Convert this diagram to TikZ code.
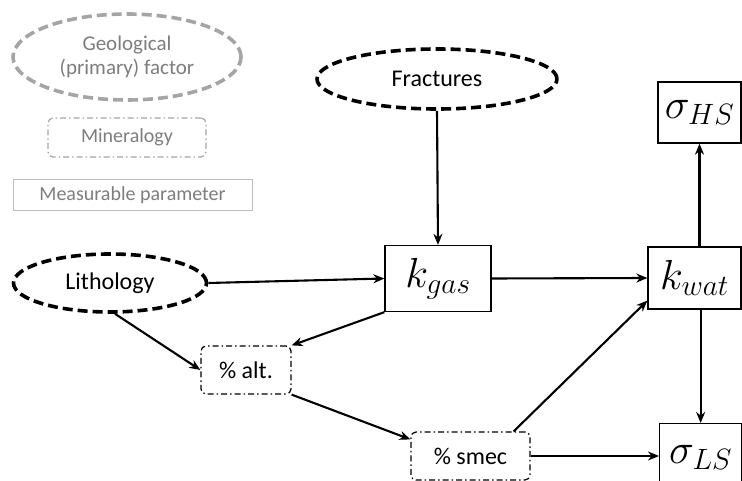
\RequirePackage{fix-cm}
\documentclass[tikz,border=0pt]{standalone}
\usepackage{fontspec}
\setmainfont{Carlito}
\usetikzlibrary{shapes.geometric,arrows.meta}
\definecolor{legendgray}{RGB}{165,165,165}
\definecolor{legendtext}{RGB}{125,125,125}
\definecolor{lightbox}{RGB}{190,190,190}
\tikzset{
  factor/.style={ellipse, draw, line width=3.6pt, dash pattern=on 10pt off 5pt, inner sep=0pt, font=\fontsize{24}{28}\selectfont},
  mineral/.style={rectangle, draw, rounded corners=5pt, line width=1.2pt, dash pattern=on 6pt off 3pt on 1.5pt off 3pt, inner sep=0pt, font=\fontsize{24}{28}\selectfont},
  param/.style={rectangle, draw, line width=1.3pt, inner sep=0pt, font=\fontsize{42}{46}\selectfont},
  conn/.style={line width=2.1pt, -{Stealth[length=11pt,width=9pt]}},
}
\begin{document}
\begin{tikzpicture}[x=1pt,y=-1pt]
\useasboundingbox (0,0) rectangle (742,481);
\clip (0,0) rectangle (742,481);
% legend
\node[factor, draw=legendgray, text=legendtext, align=center, minimum width=228, minimum height=86, font=\fontsize{21}{24}\selectfont] (geo) at (127,57) {Geological\\(primary) factor};
\node[mineral, draw=legendgray, text=legendtext, minimum width=158, minimum height=39, font=\fontsize{20}{24}\selectfont] (min) at (127,137.5) {Mineralogy};
\node[rectangle, draw=lightbox, line width=1pt, text=legendtext, minimum width=239, minimum height=31, inner sep=0pt, font=\fontsize{20}{24}\selectfont] (meas) at (132.5,195.5) {Measurable parameter};
% factors
\node[factor, minimum width=240, minimum height=60] (frac) at (437,79) {Fractures};
\node[factor, minimum width=193, minimum height=58] (lith) at (110,283) {Lithology};
% parameters
\node[param, minimum width=106, minimum height=66] (kgas) at (438,278.5) {$k_{gas}$};
\node[param, minimum width=93, minimum height=62] (kwat) at (694.5,278) {$k_{wat}$};
\node[param, minimum width=83, minimum height=61] (hs) at (699.5,112.5) {$\sigma_{HS}$};
\node[param, minimum width=82, minimum height=67, anchor=north west] (ls) at (659,423) {\raisebox{-8pt}{$\sigma_{LS}$}};
% mineralogy
\node[mineral, minimum width=90, minimum height=48] (alt) at (246,370) {\% alt.};
\node[mineral, minimum width=119, minimum height=48] (smec) at (470.5,456) {\% smec};
% connectors
\draw[conn] (frac.south) -- (kgas.north);
\draw[conn] (lith.east) -- (kgas.west);
\draw[conn] (kgas.east) -- (kwat.west);
\draw[conn] (kgas.south west) -- (alt.north east);
\draw[conn] ([xshift=5pt]lith.south) -- (alt.west);
\draw[conn] (alt.south east) -- ([yshift=-8pt]smec.north west);
\draw[conn] ([xshift=-17pt]smec.north east) -- ([yshift=9pt]kwat.south west);
\draw[conn] (smec.east) -- (smec.east -| ls.west);
\draw[conn] (hs.south |- kwat.north) -- (hs.south);
\draw[conn] (ls.north |- kwat.south) -- (ls.north);
\end{tikzpicture}
\end{document}
